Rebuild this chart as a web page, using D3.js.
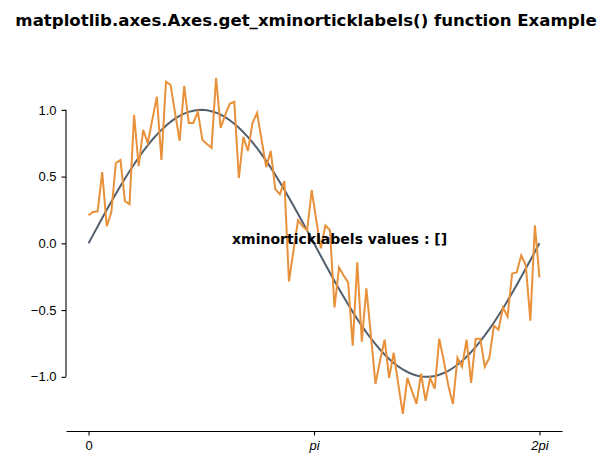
<!DOCTYPE html>
<html>
<head>
<meta charset="utf-8">
<script src="https://d3js.org/d3.v7.min.js"></script>
<style>
body { margin: 0; background: #fff; }
svg { font-family: "DejaVu Sans", sans-serif; }
.tick text { font-size: 13px; fill: #000; }
.domain, .tick line { stroke: #000; stroke-width: 1.1px; }
</style>
</head>
<body>
<svg id="chart" width="601" height="469"></svg>
<script>
// noisy samples, 100 points over [0, 2pi]
var noisy = [0.21, 0.235, 0.24, 0.534, 0.128, 0.233, 0.602, 0.624, 0.316, 0.293,
  0.962, 0.579, 0.85, 0.752, 0.925, 1.098, 0.624, 1.21, 1.188, 0.977,
  0.767, 1.18, 0.902, 0.902, 0.985, 0.774, 0.744, 0.714, 1.24, 0.865,
  0.962, 1.045, 1.06, 0.489, 0.797, 0.692, 0.902, 0.977, 0.774, 0.571,
  0.692, 0.406, 0.368, 0.466, -0.286, -0.053, 0.173, 0.128, 0.098, 0.398,
  0.173, -0.038, 0.135, 0.098, -0.481, -0.18, -0.241, -0.293, -0.767, -0.143,
  -0.737, -0.338, -0.692, -1.053, -0.88, -0.722, -1.008, -0.82, -1.053, -1.278,
  -1.008, -1.105, -1.203, -0.977, -1.18, -1.008, -1.09, -0.714, -0.88, -1.068,
  -1.203, -0.857, -0.925, -0.722, -1.045, -0.714, -0.714, -0.925, -0.857, -0.617,
  -0.647, -0.481, -0.549, -0.226, -0.218, -0.09, -0.165, -0.579, 0.135, -0.256];
var xTickVals = [0, Math.PI, 2 * Math.PI];
var xTickLabels = ["0", "pi", "2pi"];
var yTickVals = [-1.0, -0.5, 0.0, 0.5, 1.0];
var titleText = "matplotlib.axes.Axes.get_xminorticklabels() function Example";
var noteText = "xminorticklabels values : []";

var xs = noisy.map(function(d, i) { return 2 * Math.PI * i / (noisy.length - 1); });
var sine = xs.map(function(x) { return Math.sin(x); });

var svg = d3.select("#chart");
var mLeft = 66, mRight = 562, mTop = 61, mBottom = 431;

var x = d3.scaleLinear().domain([-0.1 * Math.PI, 2.1 * Math.PI]).range([mLeft, mRight]);
var y = d3.scaleLinear().domain([-1.406, 1.366]).range([mBottom, mTop]);

// title (suptitle)
svg.append("text").attr("x", 306).attr("y", 26)
  .attr("text-anchor", "middle").style("font-size", "16.6px").style("font-weight", "bold")
  .text(titleText);

// lines
var line = d3.line().x(function(d) { return x(d[0]); }).y(function(d) { return y(d[1]); });
svg.append("path").datum(xs.map(function(v, i) { return [v, sine[i]]; }))
  .attr("d", line).attr("fill", "none").attr("stroke", "#525f6d").attr("stroke-width", 2);
svg.append("path").datum(xs.map(function(v, i) { return [v, noisy[i]]; }))
  .attr("d", line).attr("fill", "none").attr("stroke", "#e8913a").attr("stroke-width", 2);

// bottom axis
var xAxis = d3.axisBottom(x).tickValues(xTickVals).tickSizeOuter(0).tickSizeInner(4.5).tickPadding(5)
  .tickFormat(function(d, i) { return xTickLabels[i]; });
var gx = svg.append("g").attr("transform", "translate(0," + mBottom + ")").call(xAxis);
gx.selectAll(".tick text").style("font-style", function(d, i) { return i > 0 ? "italic" : "normal"; });

// left axis, spine limited to [-1, 1]
var yAxis = d3.axisLeft(y).tickValues(yTickVals).tickSizeOuter(0).tickSizeInner(4.5).tickPadding(5)
  .tickFormat(function(d) { return d3.format(".1f")(d).replace("-", "\u2212"); });
var gy = svg.append("g").attr("transform", "translate(" + mLeft + ",0)").call(yAxis);
gy.select(".domain").attr("d", "M0," + y(-1) + "V" + y(1));

// annotation text
svg.append("text").attr("x", x(2.0)).attr("y", y(0) + 0.5)
  .style("font-size", "14px").style("font-weight", "bold").text(noteText);
</script>
</body>
</html>
